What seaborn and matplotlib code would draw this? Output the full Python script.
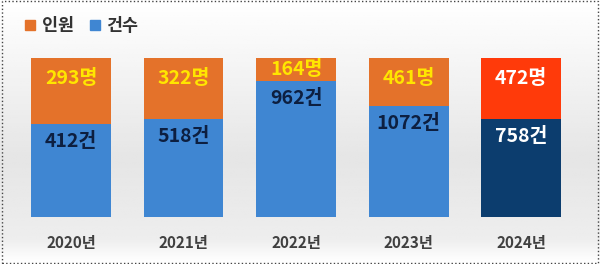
import matplotlib
matplotlib.use("Agg")
import matplotlib.pyplot as plt
import seaborn as sns
import numpy as np
import pandas as pd
from matplotlib.lines import Line2D
from matplotlib.patches import Rectangle

years = ["2020년", "2021년", "2022년", "2023년", "2024년"]
people = [293, 322, 164, 461, 472]      # 인원 (명)
cases = [412, 518, 962, 1072, 758]      # 건수 (건)

orange = "#E4722A"
blue = "#3F86D2"
hi_orange = "#FF3A0A"
hi_blue = "#0C3D6E"

sns.set_theme(style="white")
plt.rcParams["font.family"] = ["Noto Sans CJK KR", "DejaVu Sans"]

totals = [p + c for p, c in zip(people, cases)]
people_frac = [p / t for p, t in zip(people, totals)]
cases_frac = [c / t for c, t in zip(cases, totals)]
df = pd.DataFrame({"year": years, "full": [1.0] * len(years), "cases_frac": cases_frac})

fig = plt.figure(figsize=(6, 2.64), dpi=100)

# background gradient
bg = fig.add_axes([0, 0, 1, 1], zorder=-10)
grad = np.concatenate([np.linspace(1.0, 0.90, 60), np.linspace(0.90, 0.93, 30), np.linspace(0.93, 1.0, 10)])
bg.imshow(np.tile(grad[:, None], (1, 10)), cmap="gray", vmin=0, vmax=1, aspect="auto", extent=[0, 1, 0, 1])
bg.set_axis_off()

ax = fig.add_axes([0.0245, 0.178, 0.938, 0.602])
ax.patch.set_alpha(0)

orange_pal = [orange] * 4 + [hi_orange]
blue_pal = [blue] * 4 + [hi_blue]
sns.barplot(data=df, x="year", y="full", hue="year", palette=orange_pal, legend=False,
            width=0.71, saturation=1, ax=ax)
sns.barplot(data=df, x="year", y="cases_frac", hue="year", palette=blue_pal, legend=False,
            width=0.71, saturation=1, ax=ax)
for p in ax.patches:
    p.set_edgecolor("none")

ax.set_ylim(0, 1)
ax.set_xlim(-0.5, len(years) - 0.5)
ax.set_xlabel("")
ax.set_ylabel("")
ax.set_yticks([])
ax.tick_params(axis="x", length=0, pad=13)
for lab in ax.get_xticklabels():
    lab.set_fontsize(11)
    lab.set_fontweight("bold")
    lab.set_color("#404040")
sns.despine(ax=ax, left=True, bottom=True)

for i in range(len(years)):
    pf = people_frac[i]
    cf = cases_frac[i]
    y_top = 1 - min(0.13, pf / 2)
    ax.text(i, y_top, f"{people[i]}명", ha="center", va="center", fontsize=14,
            fontweight="bold", color="#FFFFFF" if i == 4 else "#FFE600")
    ax.text(i, cf - 0.11, f"{cases[i]}건", ha="center", va="center", fontsize=14,
            fontweight="bold", color="#FFFFFF" if i == 4 else "#0D1F40")

handles = [Line2D([], [], marker="s", linestyle="none", color=orange, markersize=7),
           Line2D([], [], marker="s", linestyle="none", color=blue, markersize=7)]
leg = fig.legend(handles, ["인원", "건수"], loc="upper left", bbox_to_anchor=(0.016, 0.995),
                 ncol=2, frameon=False, handlelength=0.6, handletextpad=0.35, columnspacing=0.9,
                 prop={"family": ["Noto Sans CJK KR", "DejaVu Sans"], "weight": "bold", "size": 12.5})
for t in leg.get_texts():
    t.set_color("#333333")

fig.add_artist(Rectangle((0.003, 0.005), 0.994, 0.99, transform=fig.transFigure, fill=False,
                         linestyle=":", linewidth=1, edgecolor="#444444"))

fig.savefig("out.png", dpi=100)
